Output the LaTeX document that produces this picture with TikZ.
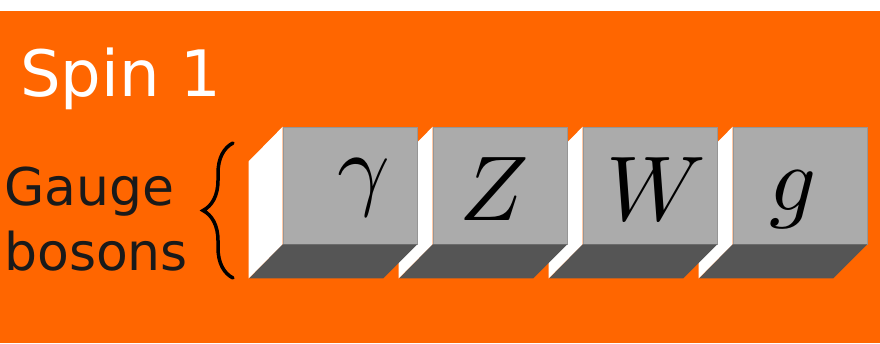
\documentclass[tikz,border=0pt]{standalone}
\usepackage{unicode-math}
\setmathfont{Latin Modern Math}
\setsansfont{DejaVu Sans}
\usetikzlibrary{calc,decorations.pathreplacing}
\definecolor{spinbg}{RGB}{255,102,0}
\definecolor{face}{RGB}{171,171,171}
\definecolor{facedark}{RGB}{85,85,85}
\definecolor{faceline}{RGB}{150,150,150}
\definecolor{ink}{RGB}{26,26,26}
\tikzset{
  every picture/.style={x=1pt, y=1pt},
  front/.style={draw=faceline, line width=0.6pt, fill=face, minimum width=134pt, minimum height=117pt, inner sep=0pt},
  side/.style={fill=white},
  bottom/.style={fill=facedark},
  sym/.style={font=\fontsize{92}{92}\selectfont, text=black, inner sep=0pt, anchor=base},
  title/.style={font=\sffamily\fontsize{64}{64}\selectfont, text=white, inner sep=0pt, anchor=base west},
  group/.style={font=\sffamily\fontsize{52}{65}\selectfont, text=ink, inner sep=0pt, align=left},
  curly/.style={decorate, decoration={brace, amplitude=30pt}, line width=3.5pt, line cap=round},
}

\begin{document}
\begin{tikzpicture}
  \fill[white] (0,0) rectangle (880,343);
  \fill[spinbg] (0,0) rectangle (880,332);
  \node[title] (spin) at (20,246) {Spin 1};
  \node[group, anchor=base west] (gauge) at (4,73) {Gauge\\bosons};
  % boxes, right one first so the left box hides the next side face
  \foreach \i/\s/\dx/\dy in {3/g/-7/-24.5, 2/W/6/-34.5, 1/Z/-6/-34.5, 0/\gamma/14/-12.5}{
    \node[front] (box\i) at (350+150*\i,157.5) {};
    \fill[side] (box\i.north west) -- (box\i.south west) -- ++(-34,-34) -- ++(0,117) -- cycle;
    \fill[bottom] (box\i.south west) -- (box\i.south east) -- ++(-34,-34) -- ++(-134,0) -- cycle;
    \node[sym] (sym\i) at ($(box\i.center)+(\dx,\dy)$) {$\s$};
  }
  \coordinate (bracelow) at (233,65);
  \coordinate (bracehigh) at (233,200);
  \draw[curly] (bracelow) -- (bracehigh);
\end{tikzpicture}
\end{document}
